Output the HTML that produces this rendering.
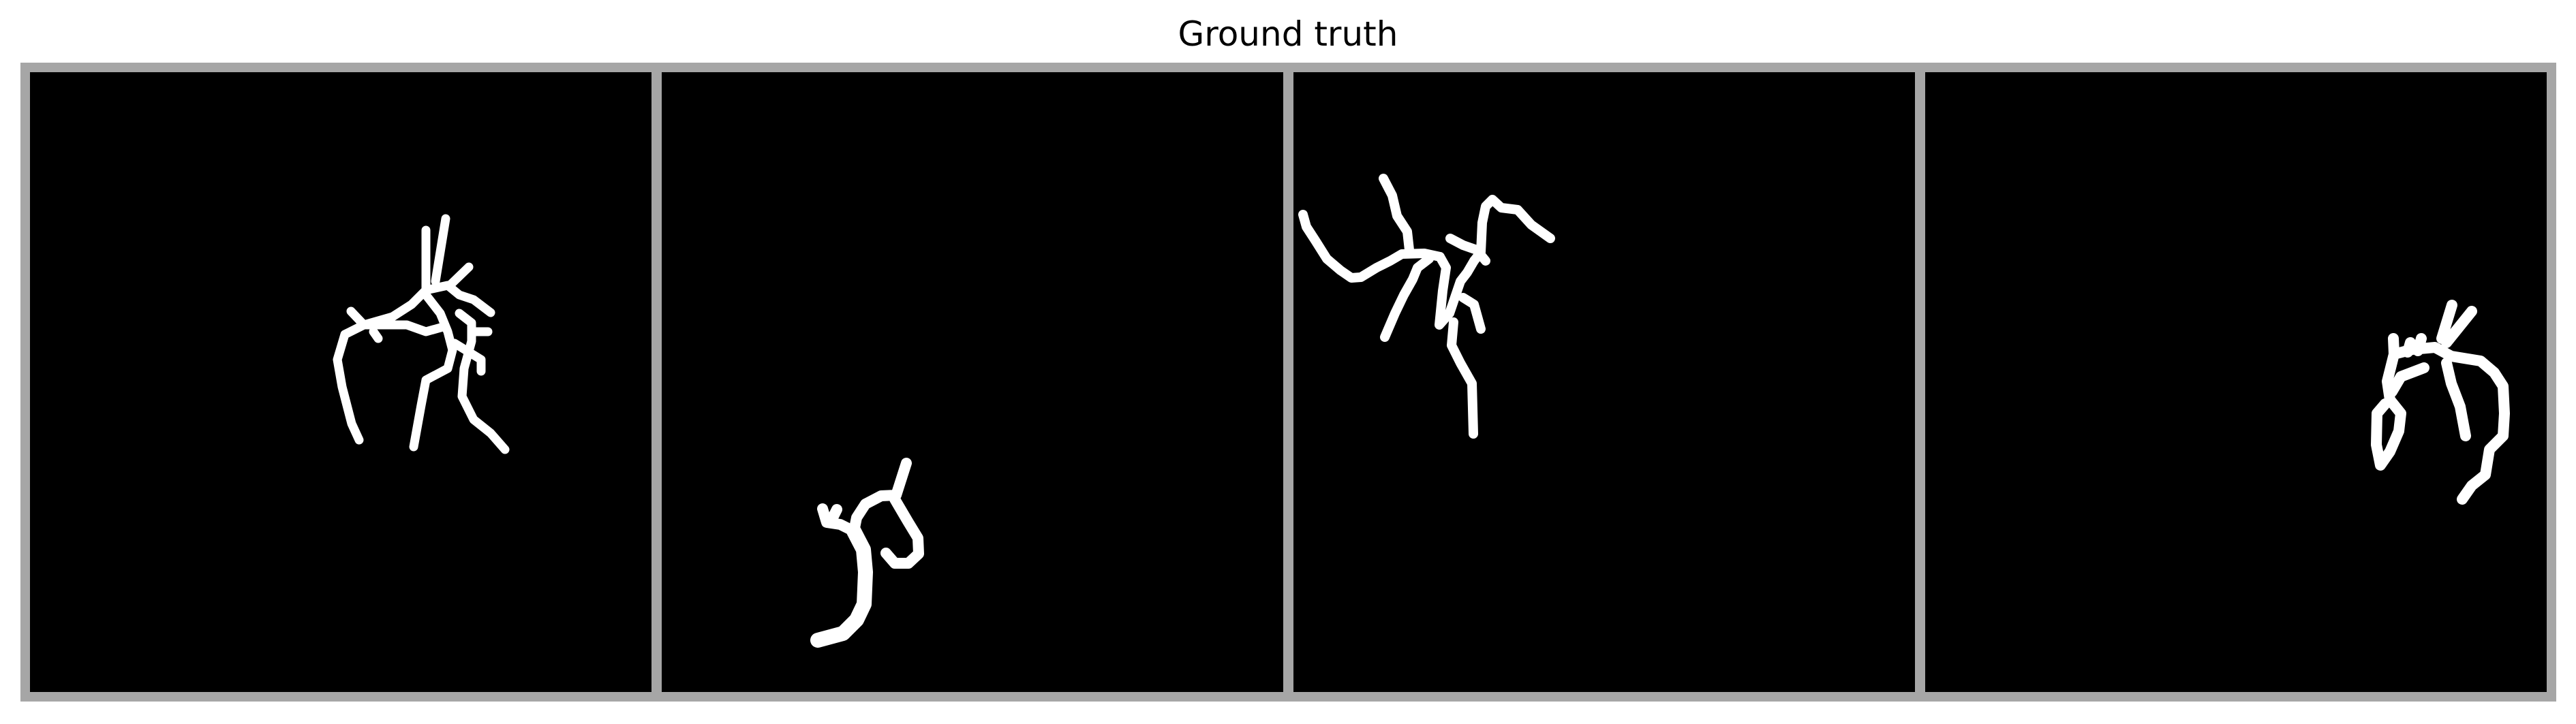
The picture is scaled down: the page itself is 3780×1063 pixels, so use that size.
<!DOCTYPE html>
<html><head><meta charset="utf-8">
<style>
html,body{margin:0;padding:0;background:#fff;}
body{width:3780px;height:1063px;overflow:hidden;position:relative;font-family:"DejaVu Sans","Liberation Sans",sans-serif;}
#title{position:absolute;left:0;width:3780px;top:20px;text-align:center;font-size:50px;color:#000;line-height:60px;}
svg{position:absolute;left:0;top:0;}
</style></head>
<body>
<div id="title">Ground truth</div>
<svg id="fig" width="3780" height="1063"></svg>
<script>
const panelNames = ['panel-1','panel-2','panel-3','panel-4'];
const p1 = [
 [[515,457],[534,477],[506,491],[495,528],[502,568],[516,622],[527,646]],
 [[534,477],[576,465],[604,447],[625,426],[657,419],[674,433],[695,440],[720,459]],
 [[625,338],[625,426]],
 [[654,321],[639,413]],
 [[688,392],[660,419]],
 [[548,487],[555,497]],
 [[534,477],[597,477],[625,487],[650,480]],
 [[625,433],[646,460],[657,487],[664,514],[657,541],[625,558],[618,595],[607,656]],
 [[674,460],[692,474],[692,501],[681,541],[678,582],[695,616],[720,636],[741,660]],
 [[692,487],[716,487]],
 [[667,504],[706,528],[706,545]]
];
const p2 = [
 [[1330,680],[1315,727],[1293,728],[1270,740],[1257,760],[1253,780]],
 [[1253,780],[1267,807],[1270,840],[1268,887],[1257,910],[1237,930],[1200,940]],
 [[1313,733],[1333,767],[1347,790],[1348,813],[1333,827],[1313,827],[1300,812]],
 [[1253,780],[1233,770],[1213,767],[1207,747]],
 [[1228,748],[1222,760]]
];
const p3 = [
 [[1912,315],[1917,333],[1930,353],[1947,380],[1967,397],[1983,408],[1997,407],[2020,393],[2040,383],[2057,373],[2090,372],[2113,377]],
 [[2030,262],[2043,287],[2050,317],[2065,340],[2068,367]],
 [[2275,350],[2247,330],[2227,308],[2203,305],[2190,293],[2180,303],[2175,327],[2173,370],[2163,383]],
 [[2128,350],[2147,360],[2167,367],[2180,383]],
 [[2097,380],[2080,393],[2073,410],[2060,433],[2047,460],[2032,495]],
 [[2113,377],[2122,393],[2117,427],[2112,477],[2127,460],[2143,413],[2153,400],[2163,383]],
 [[2147,437],[2163,447],[2173,483]],
 [[2133,473],[2130,507],[2143,533],[2160,563],[2162,637]]
];
const p4 = [
 [[3598,448],[3583,497]],
 [[3627,457],[3590,503]],
 [[3512,497],[3513,520],[3503,560],[3507,587],[3523,607],[3520,633],[3507,663],[3493,683],[3487,653],[3488,607],[3500,593]],
 [[3513,520],[3540,513],[3573,510],[3597,523],[3640,530],[3660,547],[3673,567],[3675,607],[3673,640],[3653,660],[3647,697],[3627,713],[3613,733]],
 [[3590,533],[3597,563],[3610,597],[3618,640]],
 [[3557,540],[3523,553],[3510,575]],
 [[3553,497],[3548,515]],
 [[3537,503],[3533,517]]
];
const panels = [p1,p2,p3,p4];
const widths = [13,16,14,16];

const NS='http://www.w3.org/2000/svg';
const svg=document.getElementById('fig');
const frame=document.createElementNS(NS,'rect');
frame.setAttribute('x',30);frame.setAttribute('y',92);frame.setAttribute('width',3721);frame.setAttribute('height',938);frame.setAttribute('fill','#a6a6a6');


svg.appendChild(frame);
const W=912, GAP=15, X0=44, Y0=106, H=910;
panels.forEach((paths,i)=>{
  const g=document.createElementNS(NS,'g');
  
  
  const r=document.createElementNS(NS,'rect');
  r.setAttribute('x',X0+i*(W+GAP));r.setAttribute('y',Y0);r.setAttribute('width',W);r.setAttribute('height',H);r.setAttribute('fill','#000');
  
  
  g.appendChild(r);
  paths.forEach(pts=>{
    const pl=document.createElementNS(NS,'polyline');
    pl.setAttribute('points',pts.map(p=>p.join(',')).join(' '));
    pl.setAttribute('fill','none');pl.setAttribute('stroke','#fff');
    pl.setAttribute('stroke-width',widths[i]);pl.setAttribute('stroke-linecap','round');pl.setAttribute('stroke-linejoin','round');
    
    
    g.appendChild(pl);
  });
  svg.appendChild(g);
});
const trunk=document.createElementNS(NS,'polyline');
trunk.setAttribute('points',p2[1].map(p=>p.join(',')).join(' '));
trunk.setAttribute('fill','none');trunk.setAttribute('stroke','#fff');trunk.setAttribute('stroke-width',22);trunk.setAttribute('stroke-linecap','round');trunk.setAttribute('stroke-linejoin','round');


svg.appendChild(trunk);
</script>
</body></html>
